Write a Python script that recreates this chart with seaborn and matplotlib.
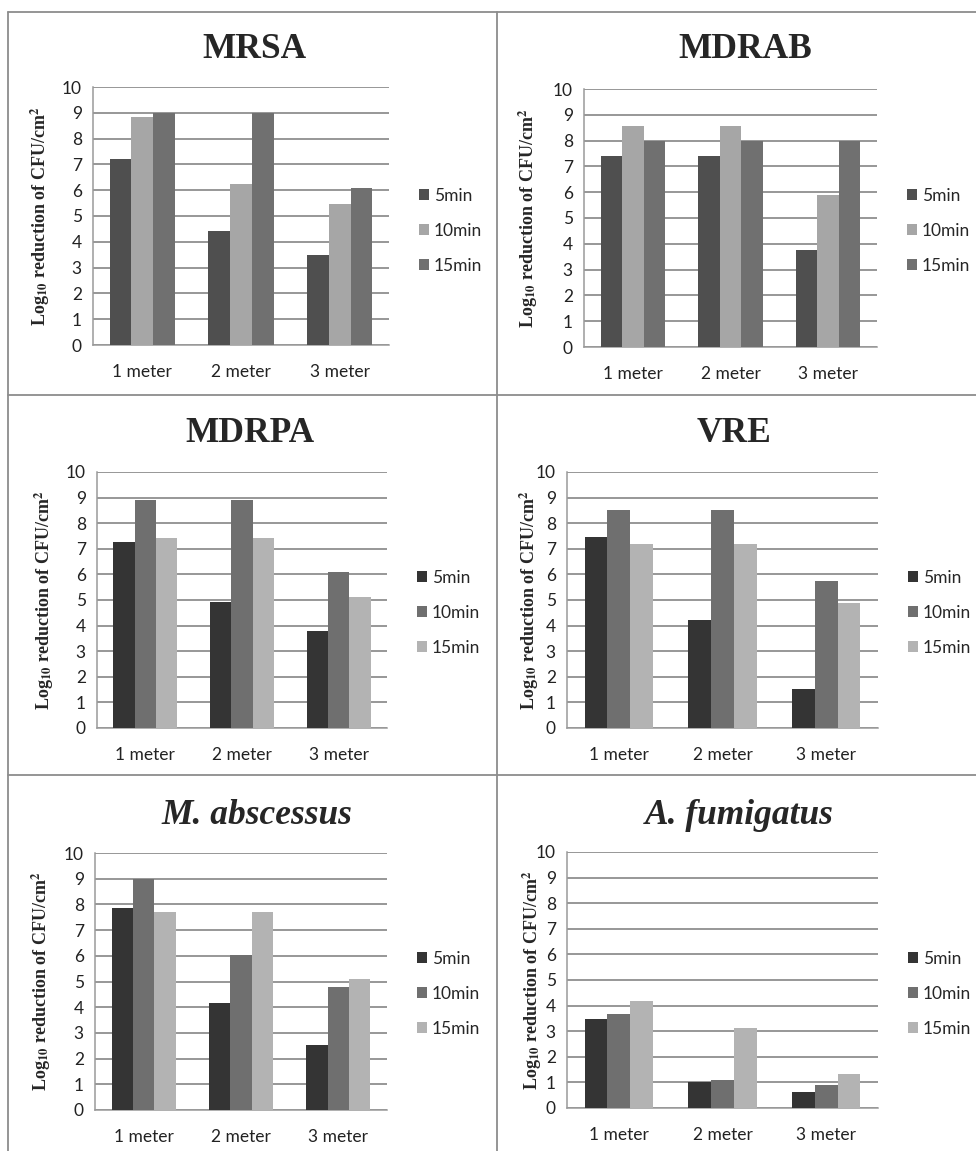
import numpy as np
import pandas as pd
import matplotlib
matplotlib.use('Agg')
import matplotlib.pyplot as plt
import seaborn as sns
from matplotlib.lines import Line2D

# ---- data ----
distances = ['1 meter', '2 meter', '3 meter']
times = ['5min', '10min', '15min']

mrsa_5 = [7.2, 4.4, 3.5]
mrsa_10 = [8.85, 6.25, 5.45]
mrsa_15 = [9.0, 9.0, 6.1]

mdrab_5 = [7.4, 7.4, 3.75]
mdrab_10 = [8.55, 8.55, 5.9]
mdrab_15 = [8.0, 8.0, 8.0]

mdrpa_5 = [7.25, 4.93, 3.77]
mdrpa_10 = [8.9, 8.9, 6.1]
mdrpa_15 = [7.42, 7.42, 5.1]

vre_5 = [7.45, 4.23, 1.52]
vre_10 = [8.53, 8.53, 5.73]
vre_15 = [7.2, 7.2, 4.9]

mabs_5 = [7.87, 4.18, 2.53]
mabs_10 = [8.97, 6.05, 4.77]
mabs_15 = [7.7, 7.7, 5.08]

afum_5 = [3.47, 1.0, 0.61]
afum_10 = [3.69, 1.1, 0.89]
afum_15 = [4.18, 3.12, 1.32]

top_colors = ['#4f4f4f', '#a6a6a6', '#707070']
low_colors = ['#343434', '#6f6f6f', '#b3b3b3']

sns.set_style('white')
plt.rcParams['font.family'] = ['Lato', 'DejaVu Sans']
plt.rcParams['mathtext.fontset'] = 'stix'

W, H = 976, 1151
fig = plt.figure(figsize=(W / 100, H / 100), dpi=100)


def rect(x0, y0, x1, y1):
    return [x0 / W, 1 - y1 / H, (x1 - x0) / W, (y1 - y0) / H]


# title, style, series, colours, axes box (px), ylabel right edge (px), title (x, y) px, legend y (px)
panels = [
    ('MRSA', 'normal', (mrsa_5, mrsa_10, mrsa_15), top_colors, (93, 87, 389, 345), 52, (254, 50), 231),
    ('MDRAB', 'normal', (mdrab_5, mdrab_10, mdrab_15), top_colors, (584, 89, 877, 347), 540, (745, 50), 231),
    ('MDRPA', 'normal', (mdrpa_5, mdrpa_10, mdrpa_15), low_colors, (97, 472, 387, 728), 56, (250, 433), 613),
    ('VRE', 'normal', (vre_5, vre_10, vre_15), low_colors, (567, 472, 878, 728), 541, (734, 433), 613),
    ('M. abscessus', 'italic', (mabs_5, mabs_10, mabs_15), low_colors, (95, 853, 387, 1110), 53, (257, 816), 994),
    ('A. fumigatus', 'italic', (afum_5, afum_10, afum_15), low_colors, (567, 852, 878, 1108), 544, (739, 816), 994),
]

grid_col = '#858585'
for title, style, vals, colors, box, ylab_x, title_xy, leg_y in panels:
    ax = fig.add_axes(rect(*box))
    df = pd.DataFrame({
        'distance': distances * 3,
        'time': [t for t in times for _ in distances],
        'value': [v for series in vals for v in series],
    })
    sns.barplot(data=df, x='distance', y='value', hue='time', order=distances,
                hue_order=times, palette=colors, width=0.66, saturation=1,
                edgecolor='none', linewidth=0, ax=ax, zorder=3)
    ax.set_ylim(0, 10)
    ax.set_yticks(range(0, 11))
    ax.set_xlim(-0.5, 2.5)
    ax.yaxis.grid(True, color=grid_col, linewidth=1.2, zorder=0)
    ax.set_axisbelow(True)
    for s in ['top', 'right']:
        ax.spines[s].set_visible(False)
    for s in ['left', 'bottom']:
        ax.spines[s].set_color('#9a9a9a')
        ax.spines[s].set_linewidth(1.1)
    ax.tick_params(axis='both', length=0, labelsize=12.5, colors='#222222')
    ax.tick_params(axis='y', pad=8)
    ax.tick_params(axis='x', pad=14)
    ax.set_xlabel('')
    ax.set_ylabel(r'Log$_{\mathbf{10}}$ reduction of CFU/cm$^{\mathbf{2}}$',
                  fontfamily='Liberation Serif', fontweight='bold', fontsize=13)
    ax.yaxis.set_label_coords(ylab_x / W, 1 - (box[1] + box[3]) / 2 / H,
                              transform=fig.transFigure)
    fig.text(title_xy[0] / W, 1 - title_xy[1] / H, title, ha='center', va='center',
             fontfamily='Liberation Serif', fontweight='bold', fontstyle=style,
             fontsize=25.5)
    leg = ax.legend(loc='center left', bbox_to_anchor=((box[2] + 23) / W, 1 - leg_y / H),
                    bbox_transform=fig.transFigure, frameon=False, fontsize=12.5,
                    handlelength=0.6, handleheight=0.6, handletextpad=0.25,
                    labelspacing=1.1, borderaxespad=0)
    for h in leg.legend_handles:
        h.set_edgecolor('none')

# panel borders
border = '#8c8c8c'
lines = [
    ((8, 976), (12, 12)),
    ((8, 976), (395, 395)),
    ((8, 976), (775, 775)),
    ((8, 8), (12, 1151)),
    ((497, 497), (12, 1151)),
]
for xs, ys in lines:
    fig.add_artist(Line2D([x / W for x in xs], [1 - y / H for y in ys],
                          color=border, linewidth=1.3, transform=fig.transFigure))

fig.savefig('out.png', dpi=100, facecolor='white')
